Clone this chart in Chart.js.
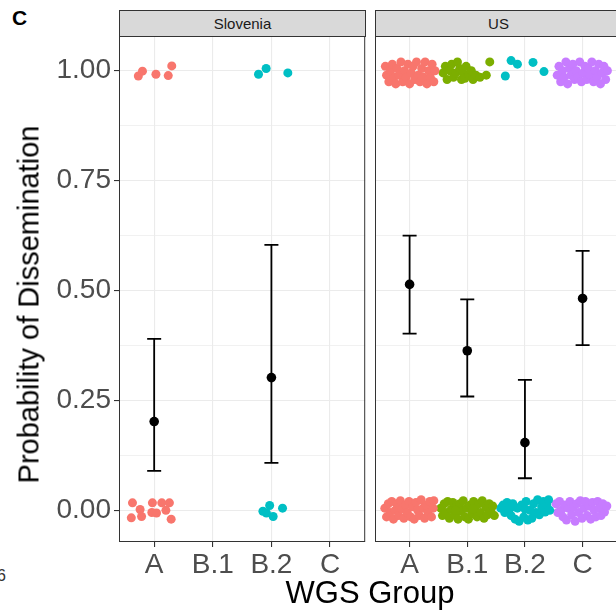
<!DOCTYPE html>
<html>
<head>
<meta charset="utf-8">
<script src="https://cdn.jsdelivr.net/npm/chart.js@4.4.0/dist/chart.umd.min.js"></script>
<style>
  body { margin:0; width:616px; height:613px; overflow:hidden; position:relative; background:#fff; font-family:"Liberation Sans", Arial, sans-serif; }
  canvas { position:absolute; top:0; }
  .strip { position:absolute; top:10px; height:27px; background:#d9d9d9; border:1px solid #333; box-sizing:border-box; font-size:15px; color:#1a1a1a; text-align:center; line-height:25px; }
  #letra { position:absolute; left:12px; top:7px; font-size:21px; font-weight:bold; line-height:21px; color:#000; }
  #pagina { position:absolute; left:-3px; top:568px; font-size:16px; line-height:16px; color:#333; }
  #titulo_x { position:absolute; left:120px; width:500px; top:577px; text-align:center; font-size:31px; line-height:31px; color:#000; }
  #titulo_y { position:absolute; left:-171px; top:290px; width:400px; height:29px; text-align:center; font-size:29px; line-height:29px; color:#000; transform:rotate(-90deg); white-space:nowrap; }
  #medida { position:absolute; left:0; top:0; font-size:10px; color:#fff; }
</style>
</head>
<body>
<div id="letra">C</div>
<div id="pagina">6</div>
<canvas id="panel_slo" width="370" height="613" style="left:0"></canvas>
<canvas id="panel_us" width="257" height="613" style="left:365px"></canvas>
<div class="strip" style="left:119px; width:247px">Slovenia</div>
<div class="strip" style="left:375px; width:247px">US</div>
<div id="titulo_y">Probability of Dissemination</div>
<div id="titulo_x">WGS Group</div>
<script>
const grupos = ['A', 'B.1', 'B.2', 'C']
const colores_grupo = ['#F8766D', '#7CAE00', '#00BFC4', '#C77CFF']
const y_rejilla = [0, 0.125, 0.25, 0.375, 0.5, 0.625, 0.75, 0.875, 1]

// media e intervalo por grupo
const slo_media = [0.202, null, 0.302, null]
const slo_inf = [0.090, null, 0.108, null]
const slo_sup = [0.390, null, 0.604, null]
const us_media = [0.514, 0.363, 0.154, 0.482]
const us_inf = [0.402, 0.259, 0.073, 0.376]
const us_sup = [0.625, 0.480, 0.297, 0.590]

// observaciones con jitter: [desplazamiento x, valor]
const slo_A = [
    [-0.27,0.988],[-0.20,0.999],[0.03,0.992],[0.24,0.989],[0.30,1.011],
    [-0.37,0.017],[-0.24,0.002],[-0.39,-0.017],[-0.215,-0.014],[-0.03,0.017],[-0.04,-0.005],
    [0.04,-0.006],[0.13,0.017],[0.26,0.017],[0.20,0.0],[0.29,-0.02]
]
const slo_B2 = [
    [-0.22,0.992],[-0.09,1.005],[0.28,0.995],
    [-0.145,-0.002],[-0.03,0.011],[0.03,-0.014],[0.19,0.005],[-0.085,-0.006]
]
const us_A = [
    [-0.42,1.01],[-0.40,0.99],[-0.36,0.975],[-0.33,1.00],[-0.30,1.015],[-0.27,0.985],[-0.24,0.97],[-0.22,1.005],
    [-0.18,0.99],[-0.15,1.02],[-0.12,0.975],[-0.09,1.00],[-0.06,0.985],[-0.03,1.015],[0.0,0.97],[0.03,0.995],
    [0.06,1.01],[0.09,0.98],[0.12,1.02],[0.15,0.99],[0.18,0.975],[0.21,1.005],[0.24,0.985],[0.27,1.02],
    [0.30,0.97],[0.33,1.0],[0.36,0.985],[0.39,1.015],[0.42,0.975],[0.44,1.0],
    [-0.43,0.005],[-0.40,-0.015],[-0.37,0.015],[-0.34,-0.005],[-0.31,0.02],[-0.28,-0.02],[-0.25,0.0],[-0.22,0.015],
    [-0.19,-0.012],[-0.16,0.022],[-0.13,0.003],[-0.10,-0.018],[-0.07,0.012],[-0.04,-0.005],[-0.01,0.02],[0.02,-0.015],
    [0.05,0.008],[0.08,-0.02],[0.11,0.018],[0.14,0.0],[0.17,-0.012],[0.20,0.024],[0.23,0.005],[0.26,-0.018],
    [0.29,0.012],[0.32,-0.005],[0.35,0.02],[0.38,-0.015],[0.41,0.005],[0.42,0.022]
]
const us_B1 = [
    [-0.42,0.995],[-0.38,1.01],[-0.35,0.98],[-0.30,1.0],[-0.27,1.015],[-0.24,0.985],[-0.20,0.995],[-0.17,1.02],
    [-0.13,1.005],[-0.10,0.98],[-0.07,0.995],[-0.04,0.983],[-0.02,1.01],[0.03,0.99],[0.07,1.0],[0.10,0.98],
    [0.15,0.99],[0.22,0.985],[0.33,0.99],[0.39,1.02],
    [-0.46,0.005],[-0.43,-0.012],[-0.40,0.015],[-0.37,-0.005],[-0.34,0.02],[-0.31,-0.018],[-0.28,0.002],[-0.25,0.018],
    [-0.22,-0.01],[-0.19,0.008],[-0.16,-0.02],[-0.13,0.015],[-0.10,-0.002],[-0.07,0.022],[-0.04,-0.015],[-0.01,0.005],
    [0.02,-0.02],[0.05,0.012],[0.08,-0.008],[0.11,0.02],[0.14,0.0],[0.17,-0.015],[0.20,0.015],[0.23,-0.005],
    [0.26,0.022],[0.29,-0.018],[0.32,0.008],[0.35,-0.01],[0.38,0.015],[0.41,-0.003],[0.44,0.01],[0.47,-0.012],
    [0.10,0.003],[-0.20,0.0]
]
const us_B2 = [
    [-0.34,0.988],[-0.24,1.023],[-0.13,1.015],[0.14,1.019],[0.33,0.998],
    [-0.42,0.005],[-0.38,0.012],[-0.35,-0.005],[-0.31,0.018],[-0.28,0.0],[-0.24,-0.012],[-0.21,0.015],[-0.17,-0.02],
    [-0.13,0.005],[-0.10,-0.025],[-0.06,0.012],[-0.02,-0.015],[0.02,0.02],[0.05,-0.022],[0.09,0.0],[0.12,-0.018],
    [0.15,0.015],[0.19,-0.005],[0.22,0.024],[0.25,-0.01],[0.29,0.008],[0.32,0.02],[0.35,-0.004],[0.38,0.012],
    [0.41,0.024],[0.43,0.0],[0.00,0.003],[-0.19,0.008]
]
const us_C = [
    [-0.44,0.99],[-0.41,1.01],[-0.38,0.975],[-0.35,1.0],[-0.32,0.985],[-0.29,1.02],[-0.26,0.97],[-0.23,1.005],
    [-0.20,0.99],[-0.17,1.015],[-0.14,0.98],[-0.11,1.0],[-0.08,0.985],[-0.05,1.02],[-0.02,0.975],[0.01,0.995],
    [0.04,1.01],[0.07,0.98],[0.10,1.005],[0.13,0.99],[0.16,1.02],[0.19,0.975],[0.22,1.0],[0.25,0.985],
    [0.28,1.015],[0.31,0.97],[0.34,0.995],[0.37,1.01],[0.40,0.98],[0.43,1.0],
    [-0.46,0.015],[-0.43,-0.005],[-0.40,0.02],[-0.37,0.0],[-0.34,-0.015],[-0.31,0.012],[-0.28,-0.022],[-0.25,0.005],
    [-0.22,0.02],[-0.19,-0.01],[-0.16,0.008],[-0.13,-0.025],[-0.10,0.015],[-0.07,-0.005],[-0.04,0.022],[-0.01,-0.018],
    [0.02,0.005],[0.05,0.02],[0.08,-0.012],[0.11,0.01],[0.14,-0.02],[0.17,0.018],[0.20,0.0],[0.23,-0.015],
    [0.26,0.02],[0.29,0.005],[0.32,-0.012],[0.35,0.015],[0.38,-0.004],[0.42,0.01]
]

const slo_puntos = [slo_A, null, slo_B2, null]
const us_puntos = [us_A, us_B1, us_B2, us_C]

function es_mayor(v){
    return Math.abs(v * 4 - Math.round(v * 4)) < 1e-6
}

// borde del panel
const marco_panel = {
    id: 'marco_panel',
    afterDraw(chart){
        let a = chart.chartArea
        let ctx = chart.ctx
        ctx.save()
        ctx.strokeStyle = '#333333'
        ctx.lineWidth = 1
        ctx.strokeRect(a.left + 0.5, a.top + 0.5, a.right - a.left - 1, a.bottom - a.top - 1)
        ctx.restore()
    }
}

// barras de error desde las escalas
const barras_error = {
    id: 'barras_error',
    beforeDatasetsDraw(chart, args, opts){
        let ctx = chart.ctx
        let sx = chart.scales.x
        let sy = chart.scales.y
        ctx.save()
        ctx.strokeStyle = '#000'
        ctx.lineWidth = 1.8
        opts.inf.forEach((lo, i) => {
            if (lo == null) return
            let px = sx.getPixelForValue(i + 1)
            let y1 = sy.getPixelForValue(lo)
            let y2 = sy.getPixelForValue(opts.sup[i])
            ctx.beginPath()
            ctx.moveTo(px, y1); ctx.lineTo(px, y2)
            ctx.moveTo(px - 7, y1); ctx.lineTo(px + 7, y1)
            ctx.moveTo(px - 7, y2); ctx.lineTo(px + 7, y2)
            ctx.stroke()
        })
        ctx.restore()
    }
}

// ancho_eje: espacio a la izquierda del panel dentro del canvas
function panel_config(media, inf, sup, puntos, con_eje, ancho_eje, relleno_der){
    let datasets = [{
        data: media.map((m, i) => m == null ? null : {x: i + 1, y: m}).filter(p => p),
        backgroundColor: '#000', borderWidth: 0, pointRadius: 4.8
    }]
    puntos.forEach((lista, i) => {
        if (!lista) return
        datasets.push({
            data: lista.map(p => ({x: i + 1 + p[0], y: p[1]})),
            backgroundColor: colores_grupo[i], borderWidth: 0, pointRadius: 4.5
        })
    })
    return {
        type: 'scatter',
        data: { datasets: datasets },
        options: {
            responsive: false,
            animation: false,
            devicePixelRatio: 1,
            layout: { padding: { top: 36, right: relleno_der, left: 0, bottom: 0 } },
            plugins: {
                legend: { display: false },
                tooltip: { enabled: false },
                barras_error: { inf: inf, sup: sup }
            },
            scales: {
                x: {
                    type: 'linear', min: 0.4, max: 4.6,
                    afterBuildTicks: s => { s.ticks = grupos.map((g, i) => ({value: i + 1})) },
                    afterFit: s => { s.height = 71; s.paddingLeft = 0; s.paddingRight = 0 },
                    ticks: {
                        autoSkip: false, maxRotation: 0, padding: 1,
                        color: '#4D4D4D',
                        font: { family: '"Liberation Sans", Arial', size: 28 },
                        callback: v => grupos[Math.round(v) - 1]
                    },
                    grid: { color: '#EBEBEB', lineWidth: 1.1, tickColor: '#333333', tickLength: 5 },
                    border: { display: false }
                },
                y: {
                    type: 'linear', min: -0.072, max: 1.079,
                    afterBuildTicks: s => { s.ticks = y_rejilla.map(v => ({value: v})) },
                    afterFit: s => { s.width = ancho_eje },
                    ticks: {
                        display: con_eje, autoSkip: false, padding: 3,
                        color: '#4D4D4D',
                        font: { family: '"Liberation Sans", Arial', size: 28 },
                        callback: v => es_mayor(v) ? v.toFixed(2) : ''
                    },
                    grid: {
                        color: '#EBEBEB',
                        lineWidth: c => c.tick && es_mayor(c.tick.value) ? 1.1 : 0.7,
                        drawTicks: con_eje,
                        tickColor: c => c.tick && es_mayor(c.tick.value) ? '#333333' : 'rgba(0,0,0,0)',
                        tickLength: 5
                    },
                    border: { display: false }
                }
            }
        },
        plugins: [marco_panel, barras_error]
    }
}

let grafico_slo = new Chart(document.getElementById('panel_slo').getContext('2d'),
    panel_config(slo_media, slo_inf, slo_sup, slo_puntos, true, 119, 0))
let grafico_us = new Chart(document.getElementById('panel_us').getContext('2d'),
    panel_config(us_media, us_inf, us_sup, us_puntos, false, 10, 0))
</script>
</body>
</html>
